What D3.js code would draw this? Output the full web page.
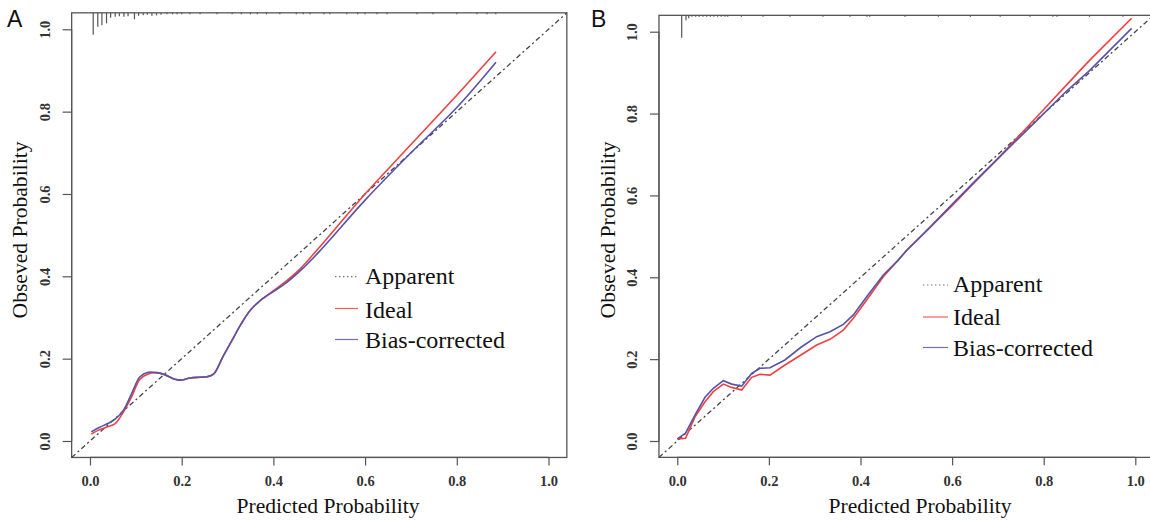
<!DOCTYPE html>
<html>
<head>
<meta charset="utf-8">
<script src="https://cdn.jsdelivr.net/npm/d3@7/dist/d3.min.js"></script>
<style>
  html, body { margin: 0; padding: 0; background: #fff; }
  svg { display: block; }
</style>
</head>
<body>
<svg id="chart" width="1150" height="521"></svg>
<script>
// ---------------- DATA ----------------
const tickValues = [0, 0.2, 0.4, 0.6, 0.8, 1.0];
const tickLabels = ["0.0", "0.2", "0.4", "0.6", "0.8", "1.0"];
const legendLabels = ["Apparent", "Ideal", "Bias-corrected"];
const panelLabels = ["A", "B"];
const xTitle = "Predicted Probability";
const yTitle = "Obseved Probability";

// Panel A calibration curves
const aPred  = [0.003, 0.02, 0.04, 0.055, 0.073, 0.091, 0.109, 0.127, 0.145, 0.164, 0.185, 0.2, 0.218, 0.24, 0.255, 0.27, 0.29, 0.31, 0.33, 0.35, 0.37, 0.40, 0.43, 0.46, 0.5, 0.6, 0.7, 0.8, 0.8855];
const aIdeal = [0.017, 0.027, 0.035, 0.042, 0.071, 0.108, 0.150, 0.163, 0.166, 0.160, 0.150, 0.148, 0.153, 0.155, 0.156, 0.163, 0.205, 0.245, 0.285, 0.318, 0.340, 0.365, 0.390, 0.420, 0.470, 0.600, 0.720, 0.840, 0.9456];
const aBias  = [0.022, 0.033, 0.043, 0.053, 0.075, 0.116, 0.156, 0.167, 0.166, 0.161, 0.150, 0.148, 0.153, 0.155, 0.156, 0.163, 0.205, 0.245, 0.285, 0.318, 0.340, 0.363, 0.386, 0.415, 0.460, 0.585, 0.700, 0.810, 0.920];

// Panel A rug (distribution of predicted probabilities)
const aRugX = [0.007, 0.017, 0.026, 0.036, 0.045, 0.055, 0.064, 0.074, 0.083, 0.097, 0.106, 0.116, 0.125, 0.135, 0.145, 0.155, 0.168, 0.18, 0.19, 0.2, 0.218, 0.24, 0.277, 0.31, 0.33, 0.35, 0.365, 0.385, 0.414, 0.45, 0.465, 0.48, 0.51, 0.523, 0.56, 0.584, 0.6, 0.626, 0.648, 0.713, 0.748, 0.8, 0.844, 0.866, 0.885];
const aRugN = [44, 28, 25, 21, 10, 8, 7, 8, 7, 13, 6, 5, 4, 6, 5, 4, 3, 3, 3, 3, 3, 3, 3, 3, 3, 3, 3, 3, 3, 3, 3, 3, 3, 3, 3, 3, 3, 3, 3, 3, 3, 3, 3, 3, 3];

// Panel B calibration curves
const bPred  = [0.0, 0.018, 0.0386, 0.0605, 0.0786, 0.1004, 0.1187, 0.1405, 0.1624, 0.1806, 0.2024, 0.235, 0.27, 0.3043, 0.3334, 0.3625, 0.3843, 0.4135, 0.4498, 0.4825, 0.5, 0.55, 0.6, 0.65, 0.7, 0.75, 0.8, 0.85, 0.9, 0.992];
const bIdeal = [0.005, 0.0065, 0.059, 0.096, 0.1205, 0.139, 0.131, 0.1246, 0.1556, 0.163, 0.161, 0.1857, 0.21, 0.2345, 0.2484, 0.271, 0.300, 0.3445, 0.4014, 0.442, 0.465, 0.520, 0.575, 0.633, 0.690, 0.750, 0.810, 0.870, 0.930, 1.033];
const bBias  = [0.005, 0.019, 0.0635, 0.1067, 0.1287, 0.1473, 0.139, 0.134, 0.165, 0.1776, 0.179, 0.198, 0.229, 0.255, 0.267, 0.285, 0.308, 0.3526, 0.4056, 0.442, 0.465, 0.520, 0.578, 0.635, 0.690, 0.745, 0.800, 0.855, 0.905, 1.008];

// Panel B rug
const bRugX = [0.0096, 0.019, 0.025, 0.032, 0.04, 0.048, 0.056, 0.064, 0.072, 0.08, 0.088, 0.096, 0.104, 0.11, 0.14, 0.187, 0.246, 0.318, 0.377, 0.414, 0.42, 0.497, 0.57, 0.64, 0.705, 0.77, 0.82, 0.829, 0.9, 0.973];
const bRugN = [45, 10, 6, 3, 3, 3, 3, 3, 3, 3, 3, 3, 3, 3, 3, 3, 3, 3, 3, 3, 3, 3, 3, 3, 3, 3, 3, 3, 3, 3];

// ---------------- LAYOUT ----------------
const panels = [
  { label: panelLabels[0], pred: aPred, ideal: aIdeal, bias: aBias, rugX: aRugX, rugN: aRugN,
    x0: 90, x1: 548.5, y0: 441, y1: 29.3,
    labelPos: [7, 27], yLabX: 45, yTitleX: 20, yTitleY: 230, xTitleX: 328,
    leg: { x1: 335, x2: 358, tx: 365, ly: [276.7, 308.5, 339.5], ty: [284.3, 317.5, 348.3] },
    curve: d3.curveCatmullRom },
  { label: panelLabels[1], pred: bPred, ideal: bIdeal, bias: bBias, rugX: bRugX, rugN: bRugN,
    x0: 677.3, x1: 1135.3, y0: 441, y1: 31.7,
    labelPos: [591, 27], yLabX: 632, yTitleX: 608, yTitleY: 230, xTitleX: 920,
    leg: { x1: 923, x2: 948, tx: 953, ly: [285, 317, 347.5], ty: [292.3, 325, 355.7] },
    curve: d3.curveLinear }
];

const svg = d3.select("#chart");
svg.append("rect").attr("width", 1150).attr("height", 521).attr("fill", "#fff");

const serif = "'Liberation Serif', 'DejaVu Serif', serif";
const axisColor = "#555";
const redColor = "#f04040";
const blueColor = "#5454a8";

panels.forEach(p => {
  const x = d3.scaleLinear().domain([0, 1]).range([p.x0, p.x1]);
  const y = d3.scaleLinear().domain([0, 1]).range([p.y0, p.y1]);
  const lo = -0.04, hi = 1.04;
  const g = svg.append("g");

  // box
  g.append("rect")
    .attr("x", x(lo)).attr("y", y(hi))
    .attr("width", x(hi) - x(lo)).attr("height", y(lo) - y(hi))
    .attr("fill", "none").attr("stroke", axisColor).attr("stroke-width", 1.3);

  // x axis
  const xAxis = d3.axisBottom(x).tickValues(tickValues)
    .tickFormat((d, i) => tickLabels[i]).tickSize(8).tickPadding(10);
  const gx = g.append("g").attr("transform", `translate(0,${y(lo)})`).call(xAxis);
  gx.select(".domain").attr("d", `M${x(0)},0H${x(1)}`).attr("stroke", axisColor).attr("stroke-width", 1.2);
  gx.selectAll(".tick line").attr("stroke", axisColor).attr("stroke-width", 1.2);
  gx.selectAll(".tick text").attr("font-family", serif).attr("font-size", 14.5)
    .attr("font-weight", "bold").attr("fill", "#333");

  // y axis
  const yAxis = d3.axisLeft(y).tickValues(tickValues)
    .tickFormat((d, i) => tickLabels[i]).tickSize(9).tickPadding(0);
  const gy = g.append("g").attr("transform", `translate(${x(lo)},0)`).call(yAxis);
  gy.select(".domain").attr("d", `M0,${y(0)}V${y(1)}`).attr("stroke", axisColor).attr("stroke-width", 1.2);
  gy.selectAll(".tick line").attr("stroke", axisColor).attr("stroke-width", 1.2);
  gy.selectAll(".tick text")
    .attr("x", 0).attr("dy", null).attr("y", 0)
    .attr("transform", d => `translate(${p.yLabX - x(lo)},0) rotate(-90)`)
    .attr("text-anchor", "middle").attr("dominant-baseline", "central")
    .attr("font-family", serif).attr("font-size", 14.5).attr("font-weight", "bold").attr("fill", "#333");

  // rug at top
  const rugLen = d3.scaleLinear().domain([0, 45]).range([0, 22.5]);
  g.append("g").selectAll("line").data(p.rugX).join("line")
    .attr("x1", d => x(d)).attr("x2", d => x(d))
    .attr("y1", y(hi)).attr("y2", (d, i) => y(hi) + rugLen(p.rugN[i]))
    .attr("stroke", "#555").attr("stroke-width", 1.2);

  // diagonal (dashed)
  g.append("line")
    .attr("x1", x(lo)).attr("y1", y(lo)).attr("x2", x(hi)).attr("y2", y(hi))
    .attr("stroke", "#444").attr("stroke-width", 1.3).attr("stroke-dasharray", "5,3,2,3");

  // curves
  const line = d3.line().x(d => x(d[0])).y(d => y(d[1])).curve(p.curve);
  g.append("path").datum(p.pred.map((v, i) => [v, p.ideal[i]]))
    .attr("d", line).attr("fill", "none").attr("stroke", redColor).attr("stroke-width", 1.6);
  g.append("path").datum(p.pred.map((v, i) => [v, p.bias[i]]))
    .attr("d", line).attr("fill", "none").attr("stroke", blueColor).attr("stroke-width", 1.6);

  // legend
  const legStyles = [
    { stroke: "#777", dash: "1.5,2.5" },
    { stroke: "#f06060", dash: null },
    { stroke: "#7070b8", dash: null }
  ];
  legendLabels.forEach((lab, i) => {
    g.append("line").attr("x1", p.leg.x1).attr("x2", p.leg.x2)
      .attr("y1", p.leg.ly[i]).attr("y2", p.leg.ly[i])
      .attr("stroke", legStyles[i].stroke).attr("stroke-width", 1.2)
      .attr("stroke-dasharray", legStyles[i].dash);
    g.append("text").attr("x", p.leg.tx).attr("y", p.leg.ty[i])
      .attr("font-family", serif).attr("font-size", 24).attr("fill", "#111").text(lab);
  });

  // axis titles
  g.append("text").attr("x", p.xTitleX).attr("y", 513)
    .attr("text-anchor", "middle").attr("font-family", serif).attr("font-size", 21.6)
    .attr("fill", "#111").text(xTitle);
  g.append("text")
    .attr("transform", `translate(${p.yTitleX},${p.yTitleY}) rotate(-90)`)
    .attr("text-anchor", "middle").attr("dominant-baseline", "central")
    .attr("font-family", serif).attr("font-size", 21.6).attr("fill", "#111").text(yTitle);

  // panel label
  g.append("text").attr("x", p.labelPos[0]).attr("y", p.labelPos[1])
    .attr("font-family", "'Liberation Sans', Arial, sans-serif").attr("font-size", 23)
    .attr("fill", "#111").text(p.label);
});
</script>
</body>
</html>
